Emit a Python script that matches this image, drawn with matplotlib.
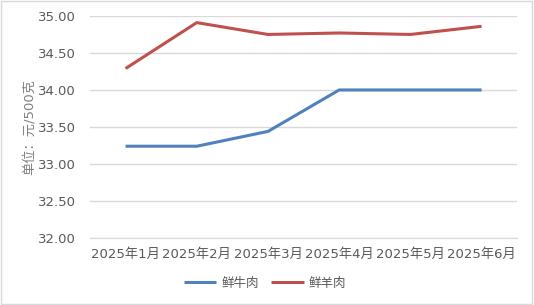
import matplotlib
matplotlib.use("Agg")
from matplotlib import pyplot as plt
from matplotlib.patches import Rectangle

plt.rcParams['font.family'] = ['DejaVu Sans', 'Noto Sans CJK SC']

months = ["2025年1月", "2025年2月", "2025年3月", "2025年4月", "2025年5月", "2025年6月"]
beef = [33.24, 33.24, 33.44, 34.00, 34.00, 34.00]
mutton = [34.29, 34.91, 34.75, 34.77, 34.75, 34.86]
yticks = [32.0, 32.5, 33.0, 33.5, 34.0, 34.5, 35.0]

fig = plt.figure(figsize=(5.34, 3.05), dpi=100)
ax = fig.add_axes([0.1685, 0.2197, 0.8, 0.728])

x = range(len(months))
ax.plot(x, beef, color="#4F81BD", linewidth=2.2, label="鲜牛肉", solid_capstyle="butt")
ax.plot(x, mutton, color="#C0504D", linewidth=2.2, label="鲜羊肉", solid_capstyle="butt")

ax.set_xlim(-0.5, 5.5)
ax.set_ylim(32.0, 35.0)
ax.set_yticks(yticks)
ax.set_yticklabels(["%.2f" % v for v in yticks])
ax.set_xticks(list(x))
ax.set_xticklabels(months)
ax.tick_params(axis="both", length=0, labelsize=9.5, colors="#595959")
ax.tick_params(axis="y", pad=10)
ax.tick_params(axis="x", pad=7)
ax.grid(axis="y", color="#d9d9d9", linewidth=1)
ax.set_axisbelow(True)
for s in ["top", "right", "left"]:
    ax.spines[s].set_visible(False)
ax.spines["bottom"].set_color("#d9d9d9")
ax.set_ylabel("单位：元/500克", fontsize=9.5, color="#7f7f7f", labelpad=2)

ax.legend(loc="center", bbox_to_anchor=(265 / 534, 1 - 283 / 305), bbox_transform=fig.transFigure,
          ncol=2, frameon=False, fontsize=9, handlelength=2.6, columnspacing=1.0,
          handletextpad=0.4, labelcolor="#595959")

fig.patches.append(Rectangle((0.002, 0.003), 0.995, 0.993, transform=fig.transFigure,
                             fill=False, edgecolor="#d9d9d9", linewidth=1))

fig.savefig("out.png", dpi=100)
